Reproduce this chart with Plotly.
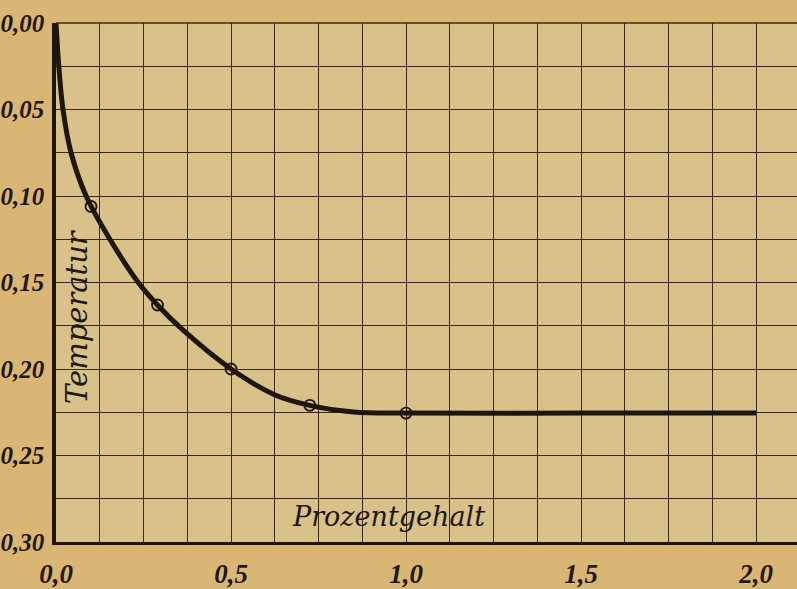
import plotly.graph_objects as go

# Curve (Prozentgehalt, Temperatur)
curve_x = [0.0, 0.008, 0.02, 0.043, 0.086, 0.154, 0.235, 0.29, 0.36, 0.5, 0.626, 0.725, 0.85, 1.0, 1.5, 2.0]
curve_y = [0.0, 0.025, 0.05, 0.075, 0.100, 0.125, 0.150, 0.163, 0.177, 0.200, 0.215, 0.221, 0.2248, 0.2255, 0.2255, 0.2255]

# Measured points (open circles)
pts_x = [0.10, 0.29, 0.50, 0.725, 1.00]
pts_y = [0.106, 0.163, 0.200, 0.221, 0.2255]

x_ticks = [0.0, 0.5, 1.0, 1.5, 2.0]
x_labels = ["0,0", "0,5", "1,0", "1,5", "2,0"]
y_ticks = [0.00, 0.05, 0.10, 0.15, 0.20, 0.25, 0.30]
y_labels = ["0,00", "0,05", "0,10", "0,15", "0,20", "0,25", "0,30"]

ink = "#3a2a14"
dark = "#1e150b"
txt = "#1f160c"

fig = go.Figure()
fig.add_trace(go.Scatter(x=curve_x, y=curve_y, mode="lines",
                         line=dict(color=dark, width=5, shape="spline", smoothing=1.0),
                         hoverinfo="skip", showlegend=False))
fig.add_trace(go.Scatter(x=pts_x, y=pts_y, mode="markers",
                         marker=dict(symbol="circle-open", size=11, color=dark,
                                     line=dict(width=1.8, color=dark)),
                         showlegend=False))

fig.update_layout(
    width=797, height=589,
    margin=dict(l=53, r=0, t=23, b=42),
    paper_bgcolor="#dab675",
    plot_bgcolor="#d8c28a",
    showlegend=False,
    xaxis=dict(range=[0, 2.117], tickvals=x_ticks, ticktext=x_labels,
               showgrid=True, gridcolor=ink, gridwidth=1.4,
               minor=dict(dtick=0.125, tick0=0, showgrid=True, gridcolor=ink, gridwidth=1.4),
               showline=True, linecolor=dark, linewidth=3,
               ticks="", zeroline=False,
               tickfont=dict(family="Liberation Sans Narrow", size=27, color=txt,
                             style="italic", weight="bold"),
               ticklabelstandoff=6),
    yaxis=dict(range=[0.30, 0.0], tickvals=y_ticks, ticktext=y_labels,
               showgrid=True, gridcolor=ink, gridwidth=1.4,
               minor=dict(dtick=0.025, tick0=0, showgrid=True, gridcolor=ink, gridwidth=1.4),
               showline=True, linecolor=dark, linewidth=3.5,
               ticks="", zeroline=False,
               tickfont=dict(family="Liberation Sans Narrow", size=25, color=txt,
                             style="italic", weight="bold"),
               ticklabelstandoff=3),
    shapes=[dict(type="line", xref="paper", yref="paper", x0=0, x1=1, y0=1, y1=1,
                 line=dict(color=ink, width=1.6))],
    annotations=[
        dict(text="Prozentgehalt", x=0.95, y=0.285, xref="x", yref="y", showarrow=False,
             font=dict(family="DejaVu Serif", size=27, color=txt, style="italic")),
        dict(text="Temperatur", x=0.06, y=0.17, xref="x", yref="y", showarrow=False,
             textangle=-90,
             font=dict(family="DejaVu Serif", size=29, color=txt, style="italic")),
    ],
)

fig.write_html("out.html", config={"displayModeBar": False},
               post_script="document.body.style.margin='0';document.body.style.overflow='hidden';")
